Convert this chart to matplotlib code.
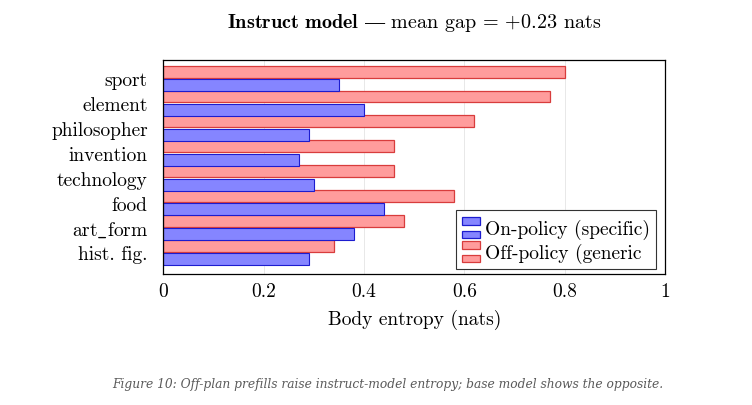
import matplotlib
matplotlib.use("Agg")
import matplotlib.pyplot as plt
import numpy as np
from matplotlib.legend_handler import HandlerBase
from matplotlib.patches import Patch, Rectangle

categories = ["sport", "element", "philosopher", "invention",
              "technology", "food", r"art$\_$form", "hist. fig."]
on_policy = [0.35, 0.40, 0.29, 0.27, 0.30, 0.44, 0.38, 0.29]
off_policy = [0.80, 0.77, 0.62, 0.46, 0.46, 0.58, 0.48, 0.34]
x_ticks = [0, 0.2, 0.4, 0.6, 0.8, 1]
x_tick_labels = ["0", "0.2", "0.4", "0.6", "0.8", "1"]

blue_fc, blue_ec = "#8585ff", "#1c1ccf"
red_fc, red_ec = "#ff9c9c", "#d83c3c"

plt.rcParams["font.family"] = ["cmr10", "DejaVu Serif"]
plt.rcParams["mathtext.fontset"] = "cm"
plt.rcParams["axes.formatter.use_mathtext"] = True


class StackedHandler(HandlerBase):
    # two small boxes stacked, like the pgfplots legend
    def create_artists(self, legend, orig_handle, xdescent, ydescent,
                       width, height, fontsize, trans):
        fc = orig_handle.get_facecolor()
        ec = orig_handle.get_edgecolor()
        h = height * 0.32
        out = []
        for y0 in (height * 0.62, height * 0.04):
            r = Rectangle((-xdescent, y0 - ydescent), width, h,
                          facecolor=fc, edgecolor=ec, lw=0.9, transform=trans)
            out.append(r)
        return out


fig = plt.figure(figsize=(7.52, 4.06), dpi=100)
ax = fig.add_axes([0.2168, 0.323, 0.668, 0.527])

y = np.arange(len(categories))
bh = 0.48
ax.barh(y - 0.27, off_policy, height=bh, color=red_fc, edgecolor=red_ec,
        linewidth=0.9, zorder=2)
ax.barh(y + 0.27, on_policy, height=bh, color=blue_fc, edgecolor=blue_ec,
        linewidth=0.8, zorder=2)

ax.set_xlim(0, 1)
ax.set_ylim(len(categories) - 1 + 0.86, -0.74)
ax.set_yticks(y)
ax.set_yticklabels(categories, fontsize=14)
ax.set_xticks(x_ticks)
ax.set_xticklabels(x_tick_labels, fontsize=14)
ax.tick_params(length=0, pad=6)
ax.tick_params(axis="y", pad=11)
ax.grid(axis="x", color="#e8e8e8", linewidth=0.7, zorder=0)
ax.set_axisbelow(True)
for s in ax.spines.values():
    s.set_linewidth(0.9)

ax.set_xlabel("Body entropy (nats)", fontsize=14, labelpad=6)
ax.set_title(r"$\mathbf{Instruct\ model}$ $\mathrm{—}$ mean gap = +0.23 nats",
             fontsize=14.5, pad=24)

handles = [Patch(facecolor=blue_fc, edgecolor=blue_ec),
           Patch(facecolor=red_fc, edgecolor=red_ec)]
leg = ax.legend(handles, ["On-policy (specific)", "Off-policy (generic"],
                handler_map={Patch: StackedHandler()},
                loc="lower right", bbox_to_anchor=(0.982, 0.023),
                borderaxespad=0, fontsize=14, handleheight=1.45,
                handlelength=0.9, handletextpad=0.3, labelspacing=0.05,
                fancybox=False, edgecolor="#333333", framealpha=1,
                borderpad=0.3)
leg.get_frame().set_linewidth(0.8)

fig.text(0.515, 0.052, "Figure 10: Off-plan prefills raise instruct-model entropy; "
         "base model shows the opposite.", ha="center", va="center",
         fontsize=8.8, style="italic", color="#5a5a5a",
         family=["DejaVu Serif"])

fig.savefig("out.png", dpi=100)
